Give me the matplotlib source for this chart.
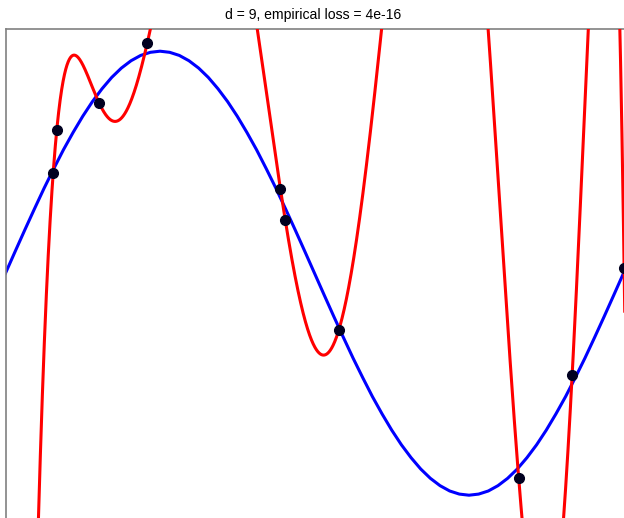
import numpy as np
import matplotlib
matplotlib.use("Agg")
import matplotlib.pyplot as plt

# Noisy training samples
x_pts = [0.0771, 0.0829, 0.1514, 0.2294, 0.4448, 0.4527, 0.5392, 0.8304, 0.9169, 1.0010]
y_pts = [0.4491, 0.6437, 0.7673, 1.0369, 0.3808, 0.2393, -0.2570, -0.9228, -0.4602, 0.0231]

# True target function, sampled on a regular grid (one full period)
x_true = [k / 64 for k in range(65)]
quarter = [0.000, 0.098, 0.195, 0.290, 0.383, 0.471, 0.556, 0.634, 0.707,
           0.773, 0.831, 0.882, 0.924, 0.957, 0.981, 0.995, 1.000]
half = quarter + quarter[-2::-1]
y_true = half + [-v for v in half[1:]]

degree = 9
title = "d = 9, empirical loss = 4e-16"

# Fit polynomial of given degree to the samples
coef = np.polyfit(x_pts, y_pts, degree)
xmax = 1.002
xx = np.linspace(0, xmax, 4000)
yy = np.polyval(coef, xx)

fig = plt.figure(figsize=(6.24, 5.18), dpi=100)
ax = fig.add_axes([5.5 / 624, 1 - 539.6 / 518, 618 * xmax / 624, 510.6 / 518])

ax.plot(x_true, y_true, color="#0000ff", lw=2.2, zorder=2)
ax.plot(xx, yy, color="#ff0000", lw=2.2, zorder=3)
ax.plot(x_pts, y_pts, "o", color="#000020", ms=7, zorder=4)

ax.set_xlim(0, xmax)
ax.set_ylim(-1.2, 1.1)
ax.set_xticks([])
ax.set_yticks([])
for side in ["right", "bottom"]:
    ax.spines[side].set_visible(False)
for side in ["left", "top"]:
    ax.spines[side].set_color("#808080")
    ax.spines[side].set_linewidth(1.2)

fig.text(313.5 / 624, 1 - 14.5 / 518, title, ha="center", va="center",
         fontsize=10.1, family="Liberation Sans")

fig.savefig("out.png", dpi=100)
